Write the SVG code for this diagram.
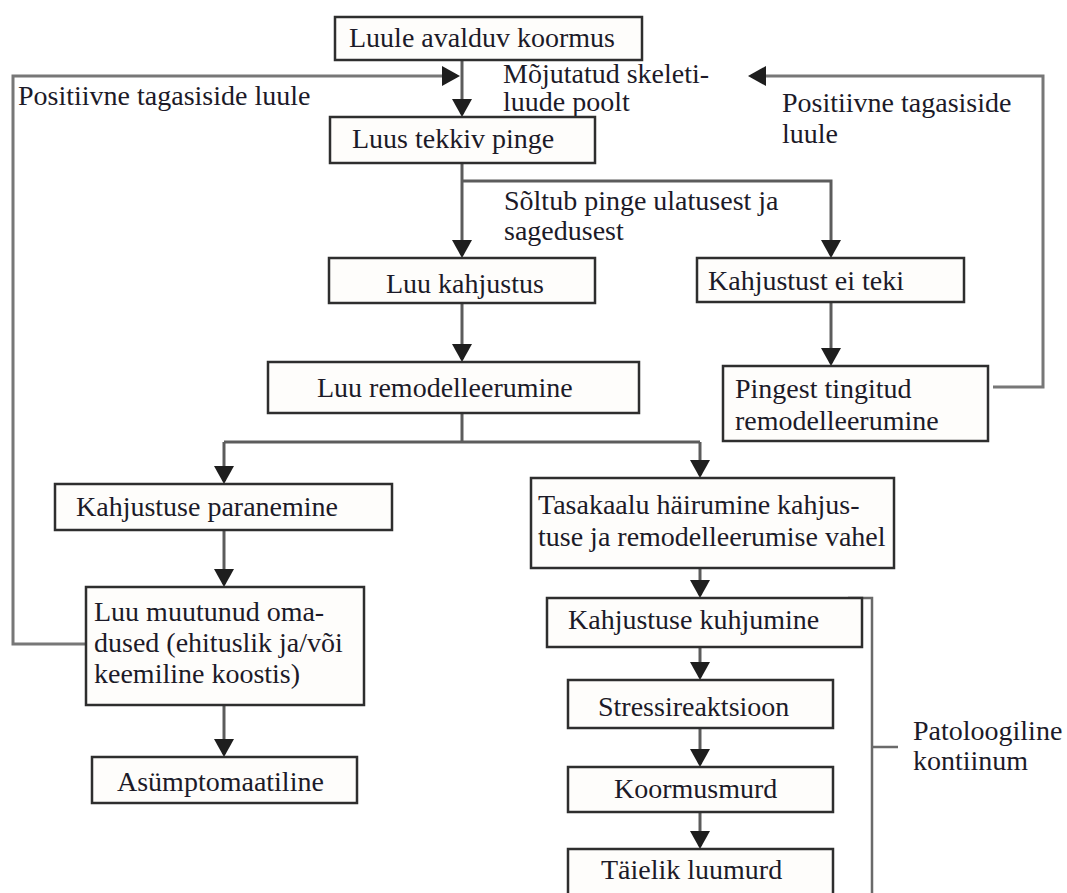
<svg xmlns="http://www.w3.org/2000/svg" width="1067" height="893" viewBox="0 0 1067 893">
<style>
  .box { fill: #fefdfb; stroke: #2e2e2e; stroke-width: 2.5; }
  .t { font-family: "Liberation Serif", "Times New Roman", serif; font-size: 28px; fill: #1c1a28; }
  .c { fill: none; stroke: #5c5c5c; stroke-width: 3; }
  .fb { fill: none; stroke: #777; stroke-width: 3; }
  .br { fill: none; stroke: #6a6a6a; stroke-width: 2.5; }
</style>
<defs>
  <marker id="ah" markerUnits="userSpaceOnUse" markerWidth="18" markerHeight="20" refX="15" refY="10" orient="auto">
    <path d="M0,0 L18,10 L0,20 z" fill="#1e1e1e"/>
  </marker>
</defs>
<rect width="1067" height="893" fill="#ffffff"/>

<g id="connectors">
  <path class="c" d="M462,60 V114" marker-end="url(#ah)"/>
  <path class="fb" d="M86,644 H13 V76 H457" marker-end="url(#ah)"/>
  <path class="fb" d="M993,387 H1043 V76 H751" marker-end="url(#ah)"/>
  <path class="c" d="M462,163 V255" marker-end="url(#ah)"/>
  <path class="c" d="M462,181 H831 V255" marker-end="url(#ah)"/>
  <path class="c" d="M462,303 V359" marker-end="url(#ah)"/>
  <path class="c" d="M831,302 V363" marker-end="url(#ah)"/>
  <path class="c" d="M462,413 V442"/>
  <path class="c" d="M224,442 H700"/>
  <path class="c" d="M224,442 V481" marker-end="url(#ah)"/>
  <path class="c" d="M700,442 V475" marker-end="url(#ah)"/>
  <path class="c" d="M224,530 V584" marker-end="url(#ah)"/>
  <path class="c" d="M224,705 V754" marker-end="url(#ah)"/>
  <path class="c" d="M700,568 V595" marker-end="url(#ah)"/>
  <path class="c" d="M700,647 V677" marker-end="url(#ah)"/>
  <path class="c" d="M700,728 V764" marker-end="url(#ah)"/>
  <path class="c" d="M700,812 V846" marker-end="url(#ah)"/>
  <path class="br" d="M848,598 H872 V900 M872,747 H898"/>
</g>

<g id="labels">
  <text class="t" x="18" y="105">Positiivne tagasiside luule</text>
  <text class="t" x="503" y="83">Mõjutatud skeleti-<tspan x="503" y="111">luude poolt</tspan></text>
  <text class="t" x="782" y="112">Positiivne tagasiside<tspan x="782" y="143">luule</tspan></text>
  <text class="t" x="504" y="210">Sõltub pinge ulatusest ja<tspan x="504" y="240">sagedusest</tspan></text>
  <text class="t" x="913" y="740">Patoloogiline<tspan x="913" y="770">kontiinum</tspan></text>
</g>

<g id="n-koormus">
  <rect class="box" x="335" y="17" width="307" height="43"/>
  <text class="t" x="349" y="47">Luule avalduv koormus</text>
</g>
<g id="n-pinge">
  <rect class="box" x="330" y="117" width="265" height="46"/>
  <text class="t" x="352" y="148">Luus tekkiv pinge</text>
</g>
<g id="n-kahjustus">
  <rect class="box" x="329" y="258" width="266" height="45"/>
  <text class="t" x="386" y="293">Luu kahjustus</text>
</g>
<g id="n-eiteki">
  <rect class="box" x="697" y="258" width="267" height="44"/>
  <text class="t" x="708" y="290">Kahjustust ei teki</text>
</g>
<g id="n-remodel">
  <rect class="box" x="268" y="362" width="371" height="51"/>
  <text class="t" x="317" y="397">Luu remodelleerumine</text>
</g>
<g id="n-pingest">
  <rect class="box" x="723" y="366" width="265" height="75"/>
  <text class="t" x="735" y="398">Pingest tingitud<tspan x="735" y="430">remodelleerumine</tspan></text>
</g>
<g id="n-paranemine">
  <rect class="box" x="55" y="484" width="337" height="46"/>
  <text class="t" x="76" y="516">Kahjustuse paranemine</text>
</g>
<g id="n-tasakaalu">
  <rect class="box" x="531" y="478" width="363" height="90"/>
  <text class="t" x="538" y="514">Tasakaalu häirumine kahjus-<tspan x="538" y="546">tuse ja remodelleerumise vahel</tspan></text>
</g>
<g id="n-omadused">
  <rect class="box" x="86" y="587" width="278" height="118"/>
  <text class="t" x="94" y="621">Luu muutunud oma-<tspan x="94" y="652">dused (ehituslik ja/või</tspan><tspan x="94" y="683">keemiline koostis)</tspan></text>
</g>
<g id="n-asumptomaatiline">
  <rect class="box" x="92" y="757" width="265" height="46"/>
  <text class="t" x="117" y="791">Asümptomaatiline</text>
</g>
<g id="n-kuhjumine">
  <rect class="box" x="547" y="598" width="315" height="49"/>
  <text class="t" x="568" y="629">Kahjustuse kuhjumine</text>
</g>
<g id="n-stress">
  <rect class="box" x="568" y="680" width="265" height="48"/>
  <text class="t" x="598" y="716">Stressireaktsioon</text>
</g>
<g id="n-koormusmurd">
  <rect class="box" x="568" y="767" width="265" height="45"/>
  <text class="t" x="614" y="798">Koormusmurd</text>
</g>
<g id="n-luumurd">
  <rect class="box" x="568" y="849" width="265" height="60"/>
  <text class="t" x="601" y="879">Täielik luumurd</text>
</g>
</svg>
